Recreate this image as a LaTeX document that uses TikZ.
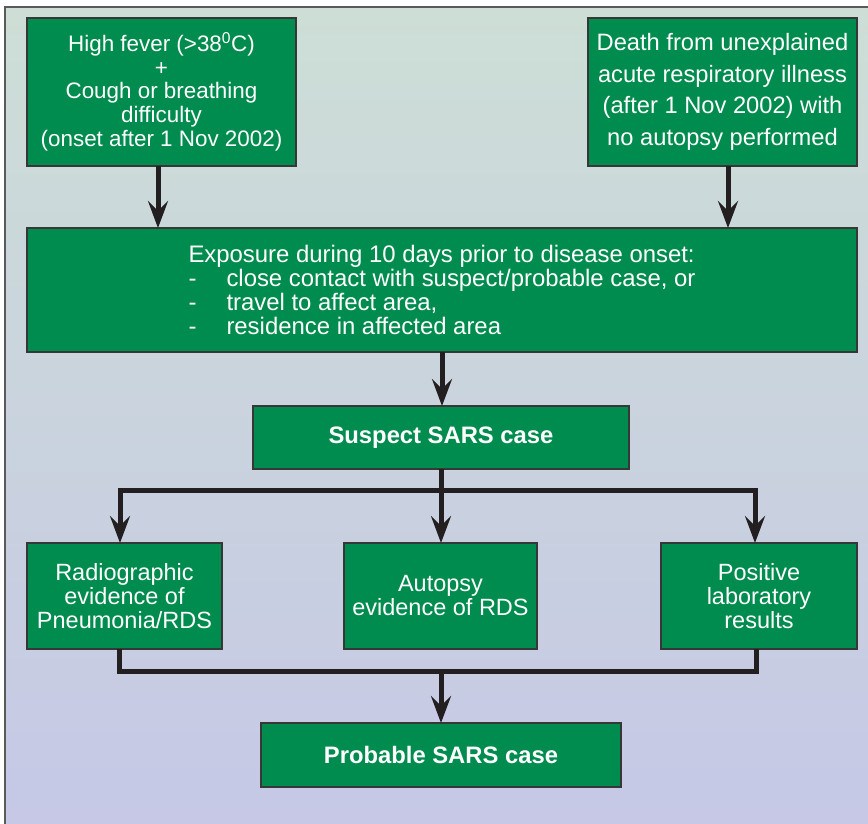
\documentclass[tikz,border=0pt]{standalone}
\usepackage{fontspec}
\setmainfont{Liberation Sans}
\usetikzlibrary{arrows.meta}
\definecolor{boxgreen}{RGB}{0,140,78}
\definecolor{boxedge}{RGB}{55,55,55}
\definecolor{arrowcol}{RGB}{35,31,32}
\definecolor{bgtop}{RGB}{205,222,214}
\definecolor{bgbot}{RGB}{198,200,230}
\definecolor{framecol}{RGB}{90,90,90}
\tikzset{
  gbox/.style={draw=boxedge, line width=1.2pt, fill=boxgreen, text=white,
    inner sep=0pt, outer sep=0pt, align=center,
    font=\fontsize{23.5}{24}\selectfont},
  conn/.style={draw=arrowcol, line width=5pt},
  arr/.style={conn, -{Stealth[length=27pt,width=20pt,inset=10pt]}},
}
\begin{document}
\begin{tikzpicture}[x=1pt,y=-1pt]
\useasboundingbox (0,0) rectangle (868,824);
\fill[white] (0,0) rectangle (868,824);
\shade[top color=bgtop, bottom color=bgbot] (5,7) rectangle (868,824);
\draw[framecol, line width=1.5pt] (868,7) -- (5,7) -- (5,824);

\node[gbox, minimum width=269pt, minimum height=148pt,
  font=\fontsize{22.4}{23.8}\selectfont] (b1) at (161.5,92)
  {High fever (>38\textsuperscript{0}C)\\+\\Cough or breathing\\difficulty\\(onset after 1 Nov 2002)};
\node[gbox, minimum width=269pt, minimum height=148pt,
  font=\fontsize{23.7}{31.7}\selectfont] (b2) at (722.5,92)
  {Death from unexplained\\acute respiratory illness\\(after 1 Nov 2002) with\\no autopsy performed};
\node[gbox, minimum width=830pt, minimum height=124pt, align=left,
  font=\fontsize{23.9}{23.8}\selectfont] (big) at (442,290)
  {Exposure during 10 days prior to disease onset:\\
   \makebox[38pt][l]{-}close contact with suspect/probable case, or\\
   \makebox[38pt][l]{-}travel to affect area,\\
   \makebox[38pt][l]{-}residence in affected area};
\node[gbox, minimum width=376pt, minimum height=63pt,
  font=\fontsize{23.8}{24}\selectfont\bfseries] (sus) at (441,437.5) {Suspect SARS case};
\node[gbox, minimum width=195pt, minimum height=106pt] (r1) at (124.5,596)
  {Radiographic\\evidence of\\Pneumonia/RDS};
\node[gbox, minimum width=193pt, minimum height=106pt] (r2) at (440.5,596)
  {Autopsy\\evidence of RDS};
\node[gbox, minimum width=196pt, minimum height=106pt] (r3) at (759,596)
  {Positive\\laboratory\\results};
\node[gbox, minimum width=360pt, minimum height=64pt,
  font=\fontsize{23.8}{24}\selectfont\bfseries] (prob) at (441,755) {Probable SARS case};

\coordinate (j1) at (441,490);
\coordinate (j2) at (441,671);

\draw[arr] ([xshift=-3.5pt]b1.south) -- ([xshift=-3.5pt]b1.south |- big.north);
\draw[arr] ([xshift=5.5pt]b2.south) -- ([xshift=5.5pt]b2.south |- big.north);
\draw[arr] (big.south) -- (big.south |- sus.north);
\draw[conn] (sus.south) -- (j1);
\draw[arr] (j1) -| ([xshift=-4.5pt]r1.north);
\draw[arr] (j1) -| ([xshift=-4pt]r3.north);
\draw[arr] (j1) -- (j1 |- r2.north);
\draw[conn] ([xshift=-5.5pt]r1.south) |- (j2);
\draw[conn] ([xshift=-3pt]r3.south) |- (j2);
\draw[arr] (j2) -- (j2 |- prob.north);
\end{tikzpicture}
\end{document}
